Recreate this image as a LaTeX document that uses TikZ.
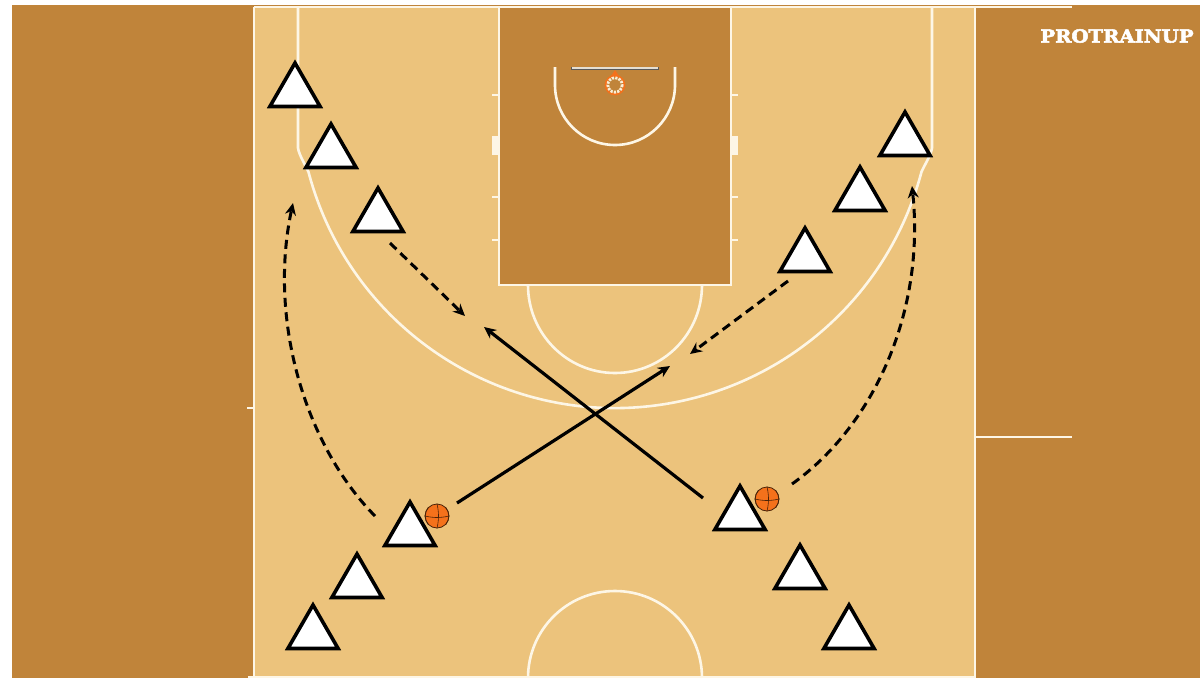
\documentclass[tikz,border=0pt]{standalone}
\usepackage{fontspec}
\usepackage{tikz}
\usetikzlibrary{shapes.geometric, arrows.meta}
\newfontfamily\logofont[BoldFeatures={FakeBold=3, FakeStretch=1.09}]{DejaVu Serif}
\definecolor{floordark}{HTML}{C0843A}
\definecolor{floorlight}{HTML}{ECC37C}
\definecolor{courtline}{HTML}{FDF6E6}
\definecolor{ballorange}{HTML}{F4711B}

\begin{document}
\begin{tikzpicture}[x=1pt, y=-1pt, >={Stealth[length=12pt, width=11pt]},
    player/.style={regular polygon, regular polygon sides=3, draw=black, fill=white, line width=3.6pt, minimum size=58pt, inner sep=0pt},
    ball/.style={circle, draw=black!70!ballorange, fill=ballorange, line width=0.8pt, minimum size=24pt, inner sep=0pt},
    seam/.style={draw=black!70!ballorange, line width=0.6pt},
    courtmark/.style={draw=courtline, line width=2.6pt},
    pass/.style={->, line width=3.2pt},
    cut/.style={->, line width=3pt, dash pattern=on 9pt off 5.5pt}]
            \useasboundingbox (0,0) rectangle (1200,678);
            % Floor
            \fill[white] (0,0) rectangle (1200,678);
            \fill[floordark] (12,5) rectangle (1200,678);
            \fill[floorlight] (254,8) rectangle (975,678);
            \fill[floordark] (499,8) rectangle (731,285);

            % Court lines
            \draw[courtmark] (254,7) -- (1072,7);
            \draw[courtmark] (254,7) -- (254,678);
            \draw[courtmark] (975,7) -- (975,678);
            \draw[courtmark] (248,677) -- (975,677);
            \draw[courtmark] (975,437) -- (1072,437);
            \draw[courtmark] (247,408) -- (254,408);

            % Paint
            \draw[courtmark] (499,8) -- (499,285) -- (731,285) -- (731,8);
            \draw[courtmark, line width=1.5pt] (492,95) -- (499,95);
            \draw[courtmark, line width=1.5pt] (492,197) -- (499,197);
            \draw[courtmark, line width=1.5pt] (492,240) -- (499,240);
            \draw[courtmark, line width=1.5pt] (731,95) -- (738,95);
            \draw[courtmark, line width=1.5pt] (731,197) -- (738,197);
            \draw[courtmark, line width=1.5pt] (731,240) -- (738,240);
            \fill[courtline] (492,136) rectangle (498,155);
            \fill[courtline] (732,136) rectangle (738,155);

            % Arcs
            \draw[courtmark] (298,8) -- (298,148) .. controls (299,155) and (305.5,165) .. (308.5,172) arc[start angle=165.2, end angle=14.8, radius=317] .. controls (924.5,165) and (931,155) .. (932,148) -- (932,8);
            \draw[courtmark] (528,285) arc[start angle=180, end angle=360, x radius=87, y radius=-88];
            \draw[courtmark] (528,678) arc[start angle=180, end angle=0, x radius=87, y radius=-87];
            \draw[courtmark] (555,67) -- (555,85) arc[start angle=180, end angle=360, x radius=60, y radius=-60] -- (675,67);

            % Backboard and hoop
            \draw[gray!70!black, line width=3pt] (571,68) -- (659,68);
            \draw[courtline!80!gray, line width=1.6pt] (572,68) -- (658,68);
            \fill[ballorange] (611,76) -- (619,76) -- (615,70) -- cycle;
            \draw[ballorange, line width=2pt] (615,85) circle (9.3);
            \draw[courtline!85!floorlight, line width=2.8pt, dash pattern=on 2.2pt off 1.2pt] (615,85) circle (7.2);

            % Players
            \node[player] (leftA) at (295,92) {};
            \node[player] (leftB) at (331,153) {};
            \node[player] (leftC) at (378,217) {};
            \node[player] (rightA) at (905,141) {};
            \node[player] (rightB) at (860,196) {};
            \node[player] (rightC) at (805,257) {};
            \node[player] (lowleftA) at (410,531) {};
            \node[player] (lowleftB) at (357,583) {};
            \node[player] (lowleftC) at (313,634) {};
            \node[player] (lowrightA) at (740,515) {};
            \node[player] (lowrightB) at (800,574) {};
            \node[player] (lowrightC) at (849,634) {};

            % Balls
            \node[ball] (ballL) at (437,516) {};
            \draw[seam] (ballL.west) to[bend right=12] (ballL.east);
            \draw[seam] (ballL.north) to[bend left=12] (ballL.south);
            \draw[seam] (ballL.north west) to[bend right=35] (ballL.south west);
            \draw[seam] (ballL.north east) to[bend left=35] (ballL.south east);
            \node[ball] (ballR) at (767,499) {};
            \draw[seam] (ballR.west) to[bend right=12] (ballR.east);
            \draw[seam] (ballR.north) to[bend left=12] (ballR.south);
            \draw[seam] (ballR.north west) to[bend right=35] (ballR.south west);
            \draw[seam] (ballR.north east) to[bend left=35] (ballR.south east);

            % Arrow ends
            \coordinate (passLend) at (670,366);
            \coordinate (passRend) at (484,327);
            \coordinate (cutLend) at (465,316);
            \coordinate (cutRend) at (690,354);
            \coordinate (runLend) at (293,203);
            \coordinate (runRend) at (912,186);
            \coordinate (passLstart) at (457,503);
            \coordinate (passRstart) at (703,498);
            \coordinate (cutLstart) at (390,243);
            \coordinate (cutRstart) at (788,281);
            \coordinate (runLstart) at (375,516);
            \coordinate (runRstart) at (792,484);

            % Passes and cuts
            \draw[pass] (passLstart) -- (passLend);
            \draw[pass] (passRstart) -- (passRend);
            \draw[cut] (cutLstart) -- (cutLend);
            \draw[cut] (cutRstart) -- (cutRend);
            \draw[cut] (runLstart) .. controls (305,445) and (268,320) .. (runLend);
            \draw[cut] (runRstart) .. controls (875,425) and (925,310) .. (runRend);

            % Logo
            \node[text=white, inner sep=0pt] (logo) at (1117,36) {\logofont\bfseries\fontsize{18}{18}\selectfont PROTRAINUP};
        \end{tikzpicture}
\end{document}
